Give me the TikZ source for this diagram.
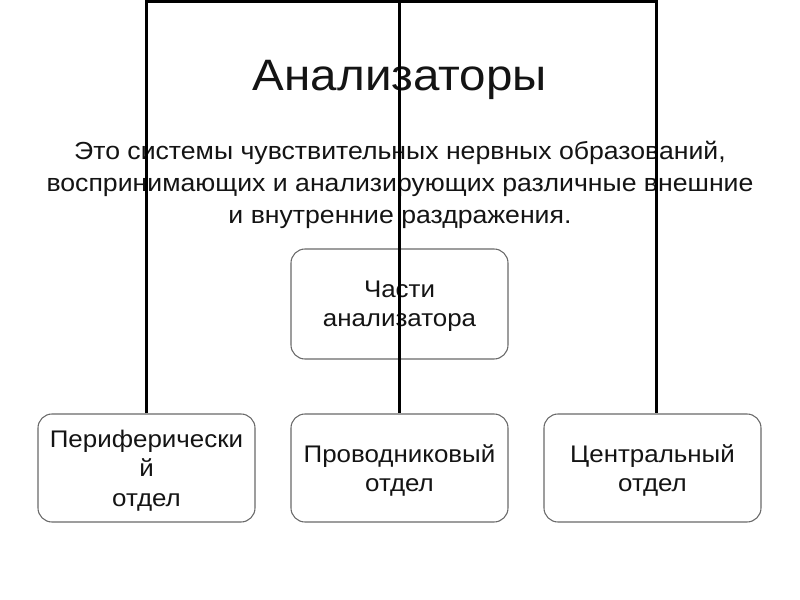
\documentclass[tikz,border=0pt]{standalone}
\usepackage{fontspec}
\setmainfont{Liberation Sans}[FakeStretch=1.08]
\usepackage{xcolor}
\definecolor{ramka}{RGB}{105,105,105}
\definecolor{tekst}{RGB}{20,20,20}

\begin{document}
\begin{tikzpicture}[x=0.75pt,y=-0.75pt,
  blok/.style={draw=ramka, line width=0.8pt, rounded corners=10.5pt, minimum width=162.75pt, minimum height=81pt, inner sep=0pt, align=center, text=tekst, text depth=0pt, font=\fontsize{18}{22}\selectfont},
  liniya/.style={line width=2.25pt, black}]
\useasboundingbox (0,0) rectangle (800,600);
\fill[white] (0,0) rectangle (800,600);
\node[anchor=base, text=tekst, font=\fontsize{33}{40}\selectfont] (zag) at (400,90) {Анализаторы};
\node[align=center, text=tekst, font=\fontsize{18.5}{24}\selectfont] (opis) at (400,185) {Это системы чувствительных нервных образований,\\воспринимающих и анализирующих различные внешние\\и внутренние раздражения.};
\node[blok, minimum height=82.5pt] (chasti) at (399.5,304) {Части\\анализатора};
\node[blok] (perif) at (146.5,468) {Периферически\\й\\отдел};
\node[blok] (provod) at (399.5,468) {Проводниковый\\отдел};
\node[blok] (centr) at (652.5,468) {Центральный\\отдел};
\coordinate (vL) at (146.5,1);
\coordinate (vM) at (399.5,1);
\coordinate (vR) at (656,1);
\draw[liniya] (perif.north) -- (vL) -- (vR) -- (vR |- centr.north);
\draw[liniya] (vM) -- (provod.north);
\end{tikzpicture}
\end{document}
